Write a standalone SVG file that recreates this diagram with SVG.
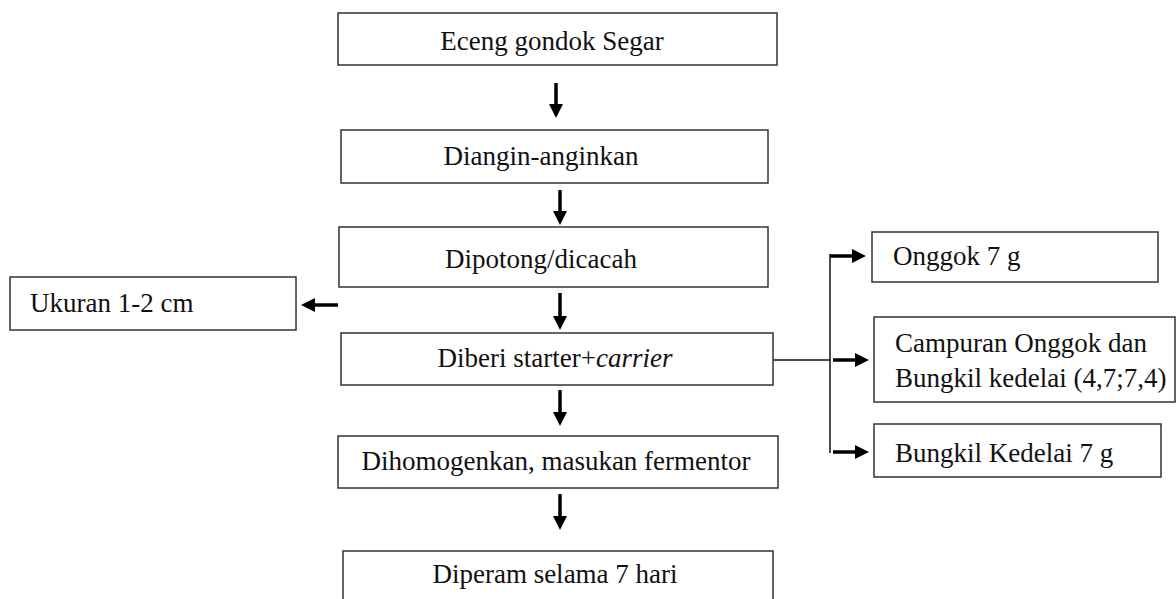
<svg xmlns="http://www.w3.org/2000/svg" width="1176" height="599" viewBox="0 0 1176 599">
<style>
.box{fill:#fff;stroke:#333;stroke-width:1.5}
.t{font-family:"Liberation Serif","Times New Roman",serif;font-size:27px;fill:#111}
.m{text-anchor:middle}
.arr{stroke:#000;stroke-width:3.5;fill:none;marker-end:url(#ah)}
.ln{stroke:#111;stroke-width:1.5;fill:none}
</style>
<defs>
<marker id="ah" viewBox="0 0 14 14" refX="0" refY="7" markerWidth="14" markerHeight="14" markerUnits="userSpaceOnUse" orient="auto">
<path d="M0,0 L14,7 L0,14 z" fill="#000"/>
</marker>
</defs>
<rect width="1176" height="599" fill="#fff"/>
<g id="connectors">
<line class="arr" x1="556" y1="83" x2="556" y2="104"/>
<line class="arr" x1="560" y1="190" x2="560" y2="211"/>
<line class="arr" x1="560" y1="293" x2="560" y2="316"/>
<line class="arr" x1="560" y1="390" x2="560" y2="412"/>
<line class="arr" x1="560" y1="494" x2="560" y2="516"/>
<line class="arr" x1="338" y1="305" x2="315" y2="305"/>
<line class="ln" x1="773" y1="360" x2="830" y2="360"/>
<line class="ln" x1="830" y1="254" x2="830" y2="453"/>
<line class="arr" x1="830" y1="256" x2="852" y2="256"/>
<line class="arr" x1="833" y1="360" x2="855" y2="360"/>
<line class="arr" x1="833" y1="452" x2="855" y2="452"/>
</g>
<g id="n1"><rect class="box" x="338" y="13" width="439" height="52"/><text class="t m" x="552" y="50">Eceng gondok Segar</text></g>
<g id="n2"><rect class="box" x="341" y="130" width="427" height="53"/><text class="t m" x="541" y="165">Diangin-anginkan</text></g>
<g id="n3"><rect class="box" x="339" y="227" width="429" height="60"/><text class="t m" x="541" y="268">Dipotong/dicacah</text></g>
<g id="n4"><rect class="box" x="341" y="333" width="432" height="52"/><text class="t m" x="555" y="367">Diberi starter+<tspan font-style="italic">carrier</tspan></text></g>
<g id="n5"><rect class="box" x="338" y="436" width="440" height="52"/><text class="t m" x="556" y="470">Dihomogenkan, masukan fermentor</text></g>
<g id="n6"><rect class="box" x="343" y="551" width="430" height="60"/><text class="t m" x="555" y="583">Diperam selama 7 hari</text></g>
<g id="n7"><rect class="box" x="10" y="277" width="286" height="53"/><text class="t" x="30" y="312">Ukuran 1-2 cm</text></g>
<g id="n8"><rect class="box" x="872" y="232" width="286" height="50"/><text class="t" x="893" y="265">Onggok 7 g</text></g>
<g id="n9"><rect class="box" x="874" y="317" width="301" height="85"/><text class="t" x="895" y="352">Campuran Onggok dan</text><text class="t" x="895" y="387">Bungkil kedelai (4,7;7,4)</text></g>
<g id="n10"><rect class="box" x="874" y="424" width="287" height="53"/><text class="t" x="895" y="462">Bungkil Kedelai 7 g</text></g>
</svg>
